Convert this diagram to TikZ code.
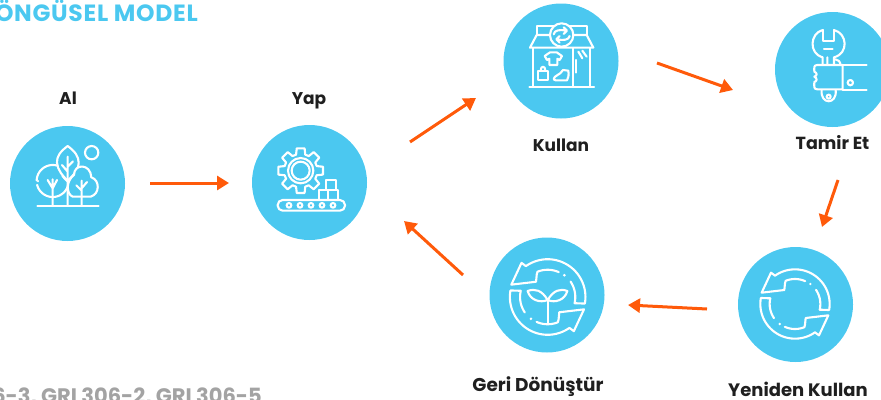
\documentclass[tikz,border=0pt]{standalone}
\usepackage{fontspec}
\setmainfont{Poppins}
\newfontfamily\wideface[LetterSpace=3]{Poppins}
\usetikzlibrary{arrows.meta}
\definecolor{disc}{HTML}{4BC8F0}
\definecolor{flow}{HTML}{FF5A0A}
\definecolor{graytext}{HTML}{A3A3A3}
\tikzset{
  discnode/.style={circle,fill=disc,draw=none,inner sep=0pt,minimum size=115pt},
  lab/.style={font=\fontsize{#1}{20}\selectfont\bfseries,text=black!88,inner sep=0pt,anchor=base},
  flowline/.style={draw=flow,line width=3pt,-{Triangle[length=12pt,width=14pt]}},
  icon/.style 2 args={shift={(#1pt,-#2pt)},x=0.33333pt,y=-0.33333pt,draw=white,line width=2.1pt,line join=round,line cap=round},
  ink/.style={draw=white,fill=disc}
}
\newcommand{\halfcycle}{%
  \draw[ink,fill=none] plot[domain=-66:-112,samples=14] ({75*cos(\x)},{75*sin(\x)})
     -- (-30,-62) -- (-32,-42) -- (-100,-34) -- (-72,-94) -- (-60,-85)
     -- plot[domain=-125:10,samples=40] ({104*cos(\x)},{104*sin(\x)})
     -- plot[domain=13:-34,samples=14] ({76*cos(\x)},{76*sin(\x)});
  \fill[white] (46,-60) circle (4);
}
\newcommand{\cycleicon}{%
  \halfcycle
  \begin{scope}[rotate=180]\halfcycle\end{scope}
}
\begin{document}
\begin{tikzpicture}[x=1pt,y=-1pt]
\useasboundingbox (0,0) rectangle (881,399);

\node[discnode] (al) at (67.5,183.5) {};
\node[discnode] (yap) at (309.5,182.5) {};
\node[discnode] (kullan) at (561,61) {};
\node[discnode] (tamir) at (832.5,69.5) {};
\node[discnode] (geri) at (547,295) {};
\node[discnode] (yeniden) at (795.5,304.5) {};

\node[lab=17] (lal) at (68,104) {Al};
\node[lab=17] (lyap) at (309,104) {Yap};
\node[lab=17] (lkullan) at (561,151) {Kullan};
\node[lab=17.5] (ltamir) at (832.5,149.5) {Tamir Et};
\node[lab=18.5] (lgeri) at (538,391) {Geri Dönüştür};
\node[lab=18] (lyeniden) at (798,396.5) {Yeniden Kullan};

\node[anchor=base east,inner sep=0pt,text=disc,font=\wideface\fontsize{23.5}{26}\selectfont\bfseries] (title) at (198,21.5) {DÖNGÜSEL MODEL};
\node[anchor=base east,inner sep=0pt,text=graytext,font=\fontsize{21}{24}\selectfont\bfseries] (gri) at (262,403) {GRI 306-3, GRI 306-2, GRI 306-5};

\coordinate (a1) at (150,183); \coordinate (a2) at (229,183);
\coordinate (b1) at (410,142); \coordinate (b2) at (476,98);
\coordinate (c1) at (657,63);  \coordinate (c2) at (733,90);
\coordinate (d1) at (838,180); \coordinate (d2) at (822,227);
\coordinate (e1) at (707,309); \coordinate (e2) at (628,305);
\coordinate (f1) at (463,275); \coordinate (f2) at (404,221);
\draw[flowline] (a1) -- (a2);
\draw[flowline] (b1) -- (b2);
\draw[flowline] (c1) -- (c2);
\draw[flowline] (d1) -- (d2);
\draw[flowline] (e1) -- (e2);
\draw[flowline] (f1) -- (f2);

% trees
\begin{scope}[icon={0}{120}]
  \draw (275,98) circle (20);
  \draw (112,258) -- (296,258);
  \draw plot[domain=-165:-2,samples=40] ({158-48*cos(\x)},{183+48*sin(\x)});
  \draw plot[domain=14:165,samples=40] ({158-48*cos(\x)},{183+48*sin(\x)});
  \draw (115,183) -- (115,184);
  \draw (158,258) -- (158,178) (158,205) -- (143,180) (158,205) -- (171,180);
  \draw[ink] (203,78) .. controls (180,95) and (170,110) .. (171,128) .. controls (172,150) and (190,170) .. (203,182) .. controls (216,170) and (236,150) .. (236,128) .. controls (236,110) and (226,95) .. (203,78) -- cycle;
  \draw (203,258) -- (203,110) (203,155) -- (186,135) (203,140) -- (219,124) (203,185) -- (187,168);
  \draw[ink] (222,165) .. controls (222,130) and (272,130) .. (274,172) .. controls (300,180) and (300,222) .. (272,230) -- (218,230) .. controls (198,222) and (198,182) .. (222,165) -- cycle;
  \draw (245,258) -- (245,182) (245,212) -- (229,196) (245,205) -- (261,186);
\end{scope}

% factory
\begin{scope}[icon={245}{120}]
  \begin{scope}[shift={(167,152)}]
    \draw[ink] (-16:50) \foreach \i in {0,...,7}{ -- ({\i*45-16}:50) -- ({\i*45-10}:68) -- ({\i*45+10}:68) -- ({\i*45+16}:50) } -- cycle;
    \draw (0,0) circle (38);
    \draw (0,0) circle (27);
  \end{scope}
  \draw[ink] (222,210) rectangle (250,240);
  \draw[ink] (250,210) rectangle (280,240);
  \draw[ink] (243,180) rectangle (272,210);
  \draw[ink,rounded corners=5pt] (98,240) rectangle (300,272);
  \foreach \x in {132,165,198,231,264} \draw (\x,256) circle (7);
\end{scope}

% shop
\begin{scope}[icon={495}{0}]
  \draw (103,260) -- (297,260);
  \draw (115,145) -- (115,260) (285,145) -- (285,260) (233,145) -- (233,260);
  \draw (125,105) -- (125,78) -- (275,78) -- (275,105);
  \draw (105,143) -- (295,143) -- (275,105) -- (125,105) -- cycle;
  \draw[ink] (200,105) circle (35);
  \draw (176,103) .. controls (178,90) and (195,88) .. (214,92) (206,82) -- (216,92) -- (206,102);
  \draw (224,108) .. controls (222,120) and (205,122) .. (186,118) (194,108) -- (184,118) -- (194,128);
  \draw (165,157) -- (185,157) -- (201,168) -- (194,180) -- (187,176) -- (187,195) -- (163,195) -- (163,176) -- (156,180) -- (149,168) -- cycle;
  \draw (128,212) rectangle (160,241);
  \draw (137,212) .. controls (137,196) and (151,196) .. (151,212);
  \draw (176,238) .. controls (176,226) and (196,226) .. (204,210) -- (220,212) .. controls (222,225) and (220,235) .. (216,241) -- (182,241) -- cycle;
  \draw (244,180) -- (244,218);
  \draw (250,155) -- (262,175) (262,152) -- (275,170);
\end{scope}

% wrench
\begin{scope}[icon={770}{0}]
  \draw (158,90) -- (158,122) -- (192,122) -- (192,90) ;
  \draw (158,90) .. controls (120,100) and (115,160) .. (158,172) -- (158,195);
  \draw (192,90) .. controls (232,100) and (237,160) .. (192,172) -- (192,195);
  \draw (162,147) -- (188,147);
  \draw (172,172) -- (172,192) (196,178) .. controls (205,178) and (210,185) .. (212,195);
  \draw (218,195) -- (142,195) .. controls (130,195) and (133,205) .. (133,215) .. controls (142,218) and (142,228) .. (133,230) .. controls (142,234) and (142,244) .. (133,246) .. controls (133,258) and (130,268) .. (142,268) -- (218,268) -- cycle;
  \draw (218,195) -- (290,195) (218,270) -- (290,270);
  \draw (241,248) circle (8);
  \draw (155,270) .. controls (150,315) and (202,315) .. (197,270);
  \draw (176,290) circle (6);
\end{scope}

% recycle + plant
\begin{scope}[icon={485}{235}]
  \begin{scope}[shift={(188,186)},scale=1.09]
    \cycleicon
  \end{scope}
  \draw (188,265) -- (188,195);
  \draw (188,195) .. controls (170,165) and (150,160) .. (128,168) .. controls (135,195) and (165,205) .. (188,195) -- cycle;
  \draw (188,195) .. controls (206,165) and (226,160) .. (247,168) .. controls (240,195) and (210,205) .. (188,195) -- cycle;
\end{scope}

% recycle
\begin{scope}[icon={735}{240}]
  \begin{scope}[shift={(180,192)}]
    \cycleicon
  \end{scope}
\end{scope}
\end{tikzpicture}
\end{document}
